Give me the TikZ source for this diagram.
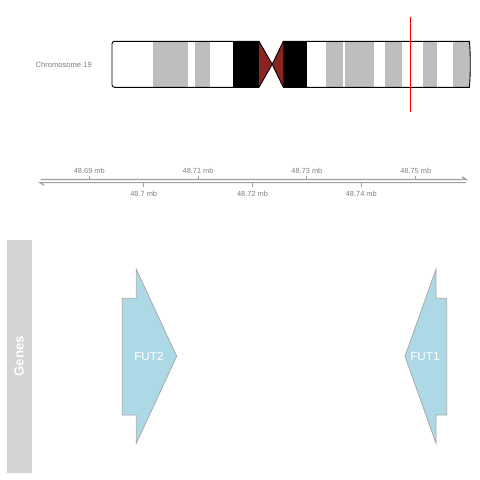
\documentclass[tikz,border=0pt]{standalone}
\usepackage{fontspec}
\setmainfont{Liberation Sans}
\definecolor{bandgray}{HTML}{BEBEBE}
\definecolor{cenred}{HTML}{8B2323}
\definecolor{labgray}{HTML}{808080}
\definecolor{axgray}{HTML}{A0A0A0}
\definecolor{panelgray}{HTML}{D3D3D3}
\definecolor{genefill}{HTML}{ADD8E6}
\definecolor{geneline}{HTML}{A9A9A9}
\tikzset{
  axlab/.style={font=\fontsize{7.4}{8}\selectfont, text=labgray, inner sep=0pt},
  axline/.style={draw=axgray, line width=1.2pt},
  tickline/.style={draw=axgray, line width=1pt},
  gene/.style={fill=genefill, draw=geneline, line width=0.8pt, line join=miter},
  genelab/.style={font=\fontsize{11.8}{13}\selectfont, text=white, inner sep=0pt},
}
\begin{document}
\begin{tikzpicture}[x=1pt,y=-1pt]
\useasboundingbox (0,0) rectangle (480,480);
% chromosome label
\node[font=\fontsize{7.6}{9}\selectfont, text=labgray, inner sep=0pt] (chrlab) at (63.7,65) {Chromosome 19};
% bands
\fill[bandgray] (153,41.3) rectangle (188,87.3);
\fill[bandgray] (195,41.3) rectangle (210,87.3);
\fill[black] (232.7,41.3) rectangle (259,87.3);
\fill[black] (283.3,41.3) rectangle (306.7,87.3);
\fill[bandgray] (326,41.3) rectangle (342.7,87.3);
\fill[bandgray] (345,41.3) rectangle (374,87.3);
\fill[bandgray] (385,41.3) rectangle (402,87.3);
\fill[bandgray] (423,41.3) rectangle (437,87.3);
\fill[bandgray] (453,41.3) -- (469.3,41.3) .. controls (470.6,50) and (470.6,78) .. (469.3,87.3) -- (453,87.3) -- cycle;
% centromere
\fill[cenred] (259,41.3) -- (272.2,64.3) -- (259,87.3) -- cycle;
\fill[cenred] (283.3,41.3) -- (272.2,64.3) -- (283.3,87.3) -- cycle;
% outline
\draw[black, line width=0.9pt, rounded corners=2.5pt] (259,41.3) -- (112,41.3) -- (112,87.3) -- (259,87.3);
\draw[black, line width=0.9pt] (259,87.3) -- (272.2,64.3) -- (259,41.3);
\draw[black, line width=0.9pt] (283.3,41.3) -- (272.2,64.3) -- (283.3,87.3) -- (469.3,87.3)
  .. controls (470.6,78) and (470.6,50) .. (469.3,41.3) -- cycle;
% red position marker
\coordinate (mtop) at (410.3,16.7);
\coordinate (mbot) at (410.3,111.7);
\draw[red, line width=1pt] (mtop) -- (mbot);
% genome axis
\coordinate (ua) at (40.5,179.4);
\coordinate (ub) at (466,179.4);
\coordinate (la) at (40,182.6);
\coordinate (lb) at (466,182.6);
\coordinate (uh) at (462,176.8);
\coordinate (lh) at (44,185.2);
\draw[axline] (ua) -- (ub) -- (uh);
\draw[axline] (lh) -- (la) -- (lb);
% ticks and labels
\foreach \v/\x [count=\i] in {48.69/89.3, 48.71/198.1, 48.73/306.9, 48.75/415.7}{
  \coordinate (tA\i) at (\x,179.4);
  \coordinate (tB\i) at (\x,175.6);
  \draw[tickline] (tA\i) -- (tB\i);
  \node[axlab] (tl\i) at (\x,170.5) {\v\ mb};
}
\foreach \v/\x [count=\i] in {48.7/143.7, 48.72/252.5, 48.74/361.3}{
  \coordinate (bA\i) at (\x,182.6);
  \coordinate (bB\i) at (\x,186.6);
  \draw[tickline] (bA\i) -- (bB\i);
  \node[axlab] (bl\i) at (\x,194.3) {\v\ mb};
}
% Genes panel
\fill[panelgray] (7,240) rectangle (32,472.7);
\node[rotate=90, font=\bfseries\fontsize{13.3}{15}\selectfont, text=white, inner sep=0pt] (genes) at (19,356.3) {Genes};
% FUT2 (forward)
\draw[gene] (122.3,298.3) -- (136.3,298.3) -- (136.3,269.3) -- (176.7,356.3) -- (136.3,443.3) -- (136.3,415) -- (122.3,415) -- cycle;
\node[genelab] (fut2) at (149,356.3) {FUT2};
% FUT1 (reverse)
\draw[gene] (446.7,298.3) -- (436,298.3) -- (436,269.3) -- (405,356.3) -- (436,443.3) -- (436,415) -- (446.7,415) -- cycle;
\node[genelab] (fut1) at (425,356.3) {FUT1};
\end{tikzpicture}
\end{document}
